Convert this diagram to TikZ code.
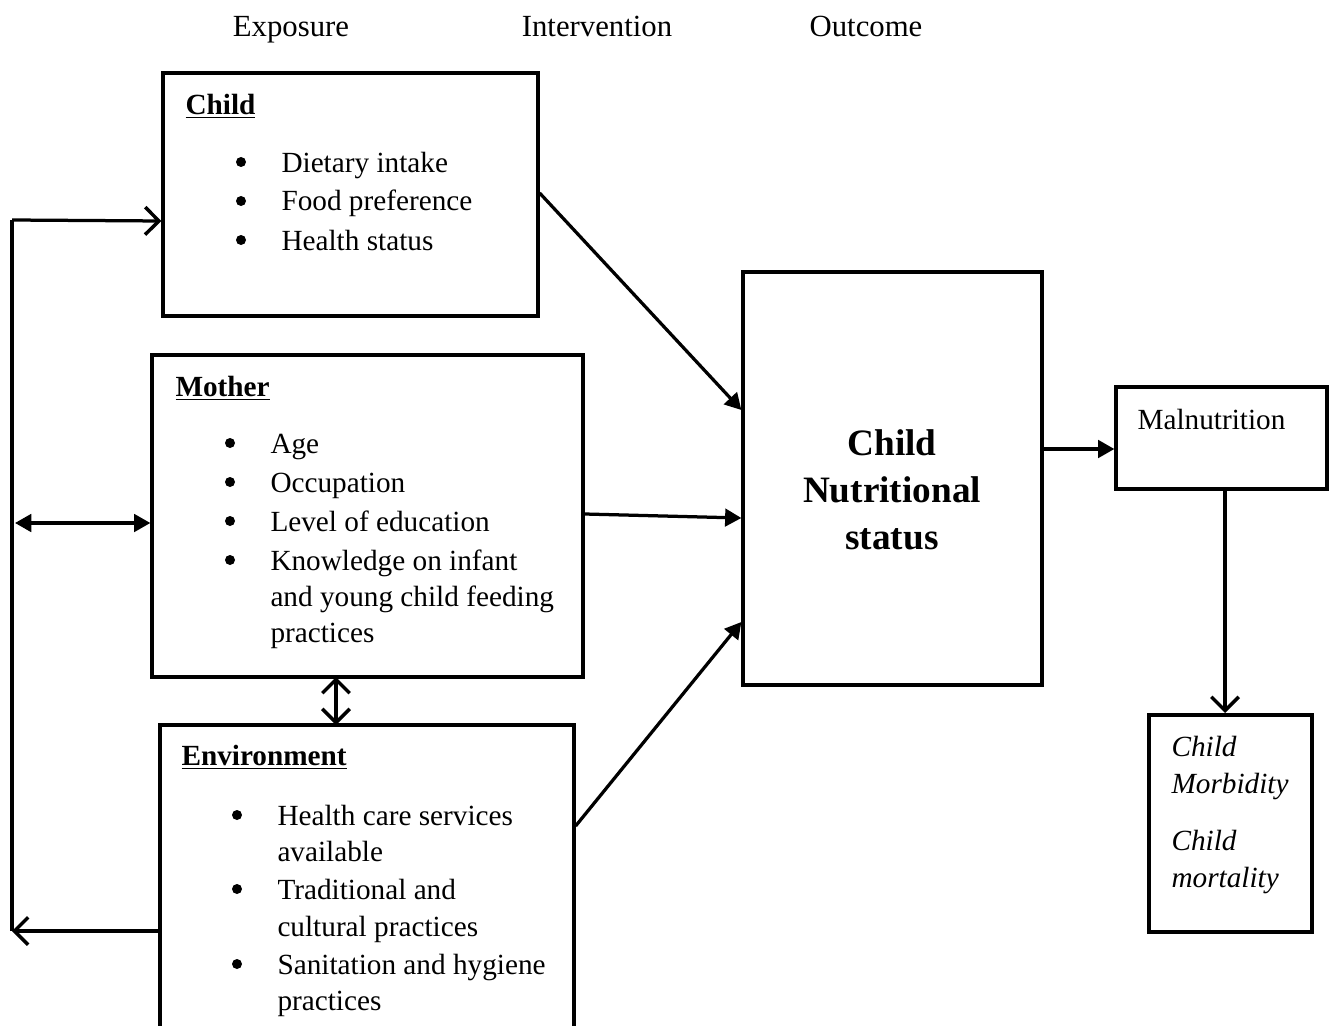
\documentclass[tikz,border=0pt]{standalone}
\usepackage{fontspec}
\setmainfont{Liberation Serif}
\usetikzlibrary{arrows.meta}
\begin{document}
\begin{tikzpicture}[x=0.4pt,y=-0.4pt,
  box/.style={draw,line width=1.3pt,minimum width=0pt,inner sep=0pt},
  txt/.style={anchor=base west,inner sep=0pt,font=\fontsize{11.7}{14}\selectfont},
  bul/.style={circle,fill,inner sep=0pt,minimum size=4pt},
  hdr/.style={anchor=base,inner sep=0pt,font=\fontsize{12.3}{14}\selectfont},
  ttl/.style={anchor=base west,inner sep=0pt,font=\fontsize{11.7}{14}\selectfont\bfseries},
  big/.style={anchor=base,inner sep=0pt,font=\fontsize{14.9}{18}\selectfont\bfseries},
  itx/.style={anchor=base west,inner sep=0pt,font=\fontsize{11.7}{14}\selectfont\itshape},
  ln/.style={line width=1.3pt},
  openarr/.style={ln,-{Straight Barb[length=5.5pt,width=11pt,line width=1.4pt]}},
  fillarr/.style={ln,-{Triangle[length=6.5pt,width=7pt]}},
  dblfill/.style={ln,{Triangle[length=6.5pt,width=7pt]}-{Triangle[length=6.5pt,width=7pt]}},
  dblopen/.style={ln,{Straight Barb[length=5.5pt,width=11pt,line width=1.4pt]}-{Straight Barb[length=5.5pt,width=11pt,line width=1.4pt]}}
]
\useasboundingbox (0,0) rectangle (1333,1026);
\clip (0,0) rectangle (1333,1026);

% headers
\node[hdr] (h1) at (291,37) {Exposure};
\node[hdr] (h2) at (597,37) {Intervention};
\node[hdr] (h3) at (866,37) {Outcome};

% boxes
\node[box,minimum width=375*0.4pt,minimum height=243*0.4pt] (child) at (350.5,194.5) {};
\node[box,minimum width=431*0.4pt,minimum height=322*0.4pt] (mother) at (367.5,516) {};
\node[box,minimum width=414*0.4pt,minimum height=340*0.4pt] (env) at (367,895) {};
\node[box,minimum width=299*0.4pt,minimum height=413*0.4pt] (ns) at (892.5,478.5) {};
\node[box,minimum width=211*0.4pt,minimum height=102*0.4pt] (mal) at (1221.5,438) {};
\node[box,minimum width=163*0.4pt,minimum height=217*0.4pt] (mm) at (1230.5,823.5) {};

% child text
\node[ttl] (ct) at (185,114) {\underline{Child}};
\node[bul] (cb1) at (241,162) {};
\node[txt] (c1) at (281,172) {Dietary intake};
\node[bul] (cb2) at (241,201) {};
\node[txt] (c2) at (281,211) {Food preference};
\node[bul] (cb3) at (241,240) {};
\node[txt] (c3) at (281,250) {Health status};

% mother text
\node[ttl] (mt) at (175,396) {\underline{Mother}};
\node[bul] (mb1) at (230,443) {};
\node[txt] (m1) at (270,453) {Age};
\node[bul] (mb2) at (230,482) {};
\node[txt] (m2) at (270,492) {Occupation};
\node[bul] (mb3) at (230,521) {};
\node[txt] (m3) at (270,531) {Level of education};
\node[bul] (mb4) at (230,560) {};
\node[txt] (m4) at (270,570) {Knowledge on infant};
\node[txt] (m5) at (270,606) {and young child feeding};
\node[txt] (m6) at (270,642) {practices};

% environment text
\node[ttl] (et) at (181,765) {\underline{Environment}};
\node[bul] (eb1) at (237,815) {};
\node[txt] (e1) at (277,825) {Health care services};
\node[txt] (e2) at (277,861) {available};
\node[bul] (eb2) at (237,889) {};
\node[txt] (e3) at (277,899) {Traditional and};
\node[txt] (e4) at (277,936) {cultural practices};
\node[bul] (eb3) at (237,964) {};
\node[txt] (e5) at (277,974) {Sanitation and hygiene};
\node[txt] (e6) at (277,1010) {practices};

% central text
\node[big] (n1) at (892,455) {Child};
\node[big] (n2) at (892,502) {Nutritional};
\node[big] (n3) at (892,549) {status};

% malnutrition
\node[txt] (mt1) at (1137,429) {Malnutrition};

% morbidity box
\node[itx] (o1) at (1171,756) {Child};
\node[itx] (o2) at (1171,793) {Morbidity};
\node[itx] (o3) at (1171,850) {Child};
\node[itx] (o4) at (1171,887) {mortality};

% left loop
\coordinate (L1) at (12,220);
\coordinate (L2) at (12,931);
\coordinate (L3) at (15,523);
\draw[ln] (L2) -- (L1);
\draw[openarr] (L1) -- (child.west |- 0,221);
\draw[openarr] (env.west |- L2) -- (L2);
\draw[dblfill] (L3) -- (mother.west |- L3);

% to central box
\draw[fillarr] (child.east |- 0,193) -- (ns.west |- 0,410);
\draw[fillarr] (mother.east |- 0,514) -- (ns.west |- 0,518);
\draw[fillarr] (env.east |- 0,826) -- (ns.west |- 0,622);

% mother <-> environment
\draw[dblopen] (336,677) -- (336,725);

% outcome
\draw[fillarr] (ns.east |- 0,449) -- (mal.west |- 0,449);
\draw[openarr] (1225,489) -- (1225,713);
\end{tikzpicture}
\end{document}
